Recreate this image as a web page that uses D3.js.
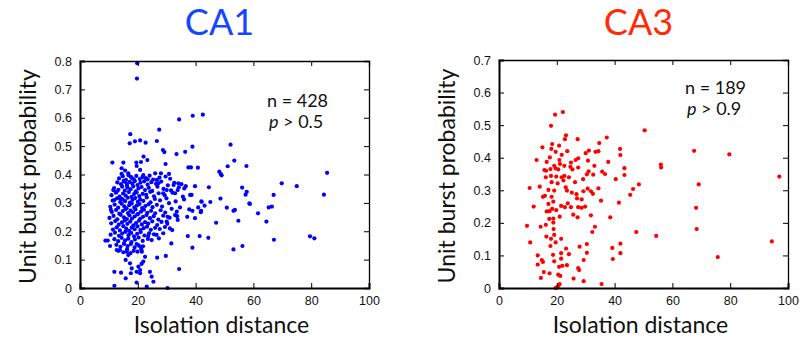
<!DOCTYPE html>
<html><head><meta charset="utf-8">
<script src="https://cdn.jsdelivr.net/npm/d3@7"></script>
<style>
html,body{margin:0;padding:0;background:#fff;}
svg{display:block;}
</style></head>
<body>
<svg id="chart" width="801" height="341"></svg>
<script>
// ---------- DATA ----------
const xTicks = [0, 20, 40, 60, 80, 100];
const ca1YTicks = [0, 0.1, 0.2, 0.3, 0.4, 0.5, 0.6, 0.7, 0.8];
const ca3YTicks = [0, 0.1, 0.2, 0.3, 0.4, 0.5, 0.6, 0.7];
const panelTitles = ["CA1", "CA3"];
const xLabel = "Isolation distance";
const yLabel = "Unit burst probability";
const ca1Stats = ["n = 428", "> 0.5"];
const ca3Stats = ["n = 189", "> 0.9"];

// CA1: [isolation distance, burst probability]
const ca1Points = [
[13.5,0.386],[14.8,0.394],[15.9,0.381],[16.8,0.397],[17.9,0.388],[18.6,0.383],[19.5,0.395],[20.7,0.384],[21.6,0.391],[22.8,0.387],[24.1,0.396],[25.3,0.382],[27.5,0.389],[29.6,0.393],[31.2,0.385],
[12.9,0.372],[14.2,0.366],[15.1,0.378],[16.3,0.361],[17.2,0.374],[18.1,0.368],[19.0,0.377],[19.9,0.363],[20.9,0.371],[22.2,0.376],[23.4,0.364],[24.7,0.373],[26.3,0.367],[28.1,0.375],[30.4,0.362],[32.6,0.371],[35.1,0.366],
[11.8,0.352],[13.3,0.346],[14.6,0.357],[15.5,0.343],[16.4,0.354],[17.5,0.348],[18.4,0.358],[19.3,0.341],[20.2,0.351],[21.3,0.356],[22.5,0.345],[23.8,0.353],[25.0,0.342],[26.8,0.357],[28.9,0.349],[31.5,0.344],[34.2,0.355],
[10.9,0.327],[12.4,0.336],[13.7,0.322],[14.9,0.333],[15.8,0.326],[16.9,0.338],[17.8,0.321],[18.7,0.331],[19.6,0.337],[20.5,0.324],[21.7,0.332],[22.9,0.328],[24.3,0.339],[25.6,0.323],[27.2,0.334],[29.3,0.327],[32.0,0.336],[35.6,0.322],
[11.3,0.308],[12.8,0.316],[13.9,0.303],[14.7,0.313],[15.6,0.306],[16.5,0.318],[17.3,0.301],[18.2,0.311],[19.1,0.317],[20.0,0.304],[20.8,0.312],[21.9,0.307],[23.1,0.319],[24.4,0.302],[25.9,0.314],[27.7,0.309],[29.9,0.316],[33.1,0.305],[36.0,0.312],
[10.5,0.286],[12.0,0.294],[13.2,0.283],[14.4,0.297],[15.3,0.288],[16.1,0.281],[17.0,0.292],[17.9,0.298],[18.8,0.284],[19.7,0.291],[20.6,0.296],[21.5,0.282],[22.6,0.289],[23.7,0.295],[25.1,0.285],[26.6,0.293],[28.4,0.287],[30.8,0.299],[34.6,0.284],
[11.0,0.268],[12.5,0.275],[13.6,0.262],[14.8,0.271],[15.7,0.278],[16.6,0.264],[17.5,0.273],[18.3,0.267],[19.2,0.277],[20.1,0.261],[21.1,0.269],[22.1,0.276],[23.3,0.265],[24.6,0.272],[26.0,0.263],[27.9,0.274],[29.5,0.266],[31.7,0.279],
[10.2,0.247],[11.6,0.254],[12.9,0.242],[14.1,0.258],[15.2,0.249],[16.2,0.243],[17.1,0.256],[18.0,0.245],[18.9,0.252],[19.8,0.259],[20.8,0.244],[21.8,0.251],[23.0,0.257],[24.2,0.246],[25.5,0.253],[27.1,0.241],[28.8,0.255],[31.0,0.248],[33.6,0.253],
[10.8,0.228],[12.2,0.236],[13.4,0.223],[14.5,0.231],[15.5,0.238],[16.4,0.226],[17.4,0.234],[18.5,0.221],[19.4,0.229],[20.4,0.237],[21.4,0.224],[22.5,0.232],[23.6,0.227],[25.0,0.235],[26.7,0.222],[28.2,0.233],[30.2,0.226],
[11.4,0.206],[12.7,0.214],[13.8,0.203],[15.0,0.218],[16.0,0.209],[17.0,0.201],[17.9,0.213],[18.9,0.207],[19.9,0.217],[20.9,0.204],[22.0,0.211],[23.2,0.216],[24.5,0.205],[26.0,0.212],[27.6,0.208],[29.4,0.215],
[10.6,0.188],[12.1,0.195],[13.5,0.184],[14.6,0.192],[15.7,0.198],[16.8,0.186],[17.7,0.194],[18.7,0.182],[19.8,0.191],[21.0,0.197],[22.3,0.185],[23.9,0.193],[25.6,0.189],
[11.9,0.172],[13.2,0.165],[14.4,0.177],[15.6,0.168],[16.7,0.174],[17.8,0.162],[19.0,0.171],[20.3,0.178],[21.7,0.166],[23.5,0.173],
[12.6,0.152],[14.0,0.145],[15.2,0.157],[16.5,0.148],[17.6,0.155],[18.9,0.143],[20.2,0.151],[21.8,0.147],
[13.8,0.134],[15.0,0.126],[16.3,0.137],[17.5,0.123],[18.6,0.131],[19.9,0.128],[21.2,0.136],
[34.3,0.594],[39.0,0.607],[42.5,0.611],[19.8,0.792],[19.7,0.738],
[27.4,0.558],[17.4,0.542],[17.2,0.510],[19.0,0.517],[20.8,0.520],[22.7,0.512],[26.6,0.518],
[28.7,0.486],[29.2,0.479],[33.4,0.472],[36.4,0.480],[38.9,0.498],[52.1,0.505],
[11.2,0.442],[15.0,0.442],[22.0,0.463],[23.3,0.451],[19.5,0.442],[21.1,0.444],[29.6,0.437],
[37.5,0.425],[38.4,0.425],[40.8,0.424],[53.4,0.449],[51.1,0.429],[57.6,0.430],
[14.4,0.422],[15.6,0.414],[16.7,0.404],[14.4,0.402],[17.6,0.392],[19.6,0.430],[20.8,0.416],[21.9,0.398],
[26.0,0.404],[28.0,0.404],[30.8,0.402],[23.4,0.383],[26.6,0.381],[27.1,0.369],
[32.4,0.363],[34.0,0.369],[36.1,0.351],[36.6,0.359],[38.6,0.328],[38.1,0.328],[33.8,0.345],[32.9,0.334],
[30.0,0.345],[28.8,0.334],[11.5,0.345],[12.7,0.339],[15.3,0.375],[16.2,0.367],
[13.8,0.316],[11.9,0.310],[10.7,0.275],
[42.1,0.304],[40.9,0.284],[41.9,0.272],[37.8,0.277],[38.9,0.272],[39.8,0.246],[37.1,0.251],
[33.5,0.269],[32.9,0.257],[33.8,0.240],[30.3,0.251],[30.0,0.234],[31.1,0.210],[31.9,0.204],
[28.8,0.193],[26.5,0.187],[27.3,0.175],[23.6,0.183],[24.8,0.169],[37.3,0.183],[41.4,0.183],
[31.6,0.157],[38.9,0.142],[29.7,0.113],[26.7,0.107],[34.3,0.067],
[9.6,0.167],[10.4,0.148],[12.7,0.134],[13.3,0.131],[15.3,0.155],[16.2,0.128],[16.7,0.116],[15.8,0.099],[17.3,0.087],[17.9,0.069],
[19.6,0.155],[20.8,0.146],[21.4,0.128],[22.5,0.110],[21.9,0.093],[21.3,0.085],[20.2,0.075],[19.6,0.057],[20.8,0.052],
[24.2,0.057],[24.8,0.040],[25.4,0.022],[11.9,0.057],[14.2,0.054],[11.9,0.008],[15.8,0.034],[17.6,0.052],[19.6,0.019],[23.1,0.005],[30.3,0.0],[8.8,0.167],[20.8,0.063],
[48.2,0.410],[48.7,0.402],[49.0,0.397],[85.5,0.406],[69.8,0.369],[75.0,0.359],[84.4,0.329],[56.1,0.354],[57.7,0.339],[57.3,0.329],[67.0,0.328],[48.6,0.315],[44.6,0.355],[39.8,0.359],[42.0,0.305],[45.1,0.303],[58.6,0.298],[58.8,0.296],[65.3,0.284],[66.4,0.287],[43.1,0.290],[50.8,0.283],[53.6,0.275],[53.1,0.272],[61.6,0.263],[41.8,0.267],[54.8,0.237],[64.5,0.234],[47.1,0.230],[44.4,0.177],[53.1,0.136],[56.2,0.148],[67.1,0.170],[79.6,0.182],[81.1,0.175]
];

// CA3: [isolation distance, burst probability]
const ca3Points = [
[19.4,0.532],[22.1,0.540],[18.0,0.498],[23.2,0.469],[22.8,0.457],[27.2,0.457],[37.3,0.462],[34.7,0.445],[18.4,0.442],[15.0,0.432],
[20.8,0.437],[18.1,0.427],[19.6,0.418],[23.6,0.420],[21.7,0.409],[17.6,0.401],[13.0,0.393],[16.5,0.387],[20.9,0.393],[21.1,0.381],
[24.9,0.385],[26.5,0.393],[27.4,0.398],[30.0,0.414],[31.1,0.422],[33.4,0.418],[34.4,0.420],[41.9,0.427],[42.0,0.408],[37.8,0.387],
[30.8,0.391],[19.1,0.375],[17.8,0.365],[15.7,0.362],[16.3,0.360],[19.6,0.367],[20.5,0.364],[22.6,0.375],[24.7,0.372],[25.4,0.364],
[27.4,0.370],[31.0,0.358],[30.4,0.349],[33.0,0.375],[35.7,0.357],[36.7,0.350],[40.4,0.334],[43.4,0.368],[43.4,0.347],[16.2,0.340],
[18.0,0.344],[19.8,0.342],[21.7,0.340],[22.6,0.344],[24.2,0.340],[22.3,0.330],[20.3,0.321],[18.2,0.325],[26.3,0.325],[29.1,0.334],
[32.6,0.348],[10.6,0.307],[14.1,0.311],[19.1,0.299],[17.1,0.301],[23.1,0.309],[23.5,0.299],[25.2,0.293],[26.8,0.288],[29.2,0.297],
[30.7,0.305],[31.8,0.297],[32.5,0.289],[34.4,0.306],[15.2,0.280],[15.9,0.283],[18.2,0.280],[18.8,0.265],[27.0,0.275],[28.6,0.272],
[35.3,0.268],[41.5,0.262],[12.0,0.250],[17.1,0.258],[16.5,0.235],[17.5,0.236],[18.4,0.243],[19.8,0.239],[21.5,0.252],[22.8,0.248],
[23.8,0.260],[24.9,0.248],[27.4,0.248],[28.6,0.246],[29.8,0.250],[27.2,0.217],[25.7,0.225],[31.8,0.223],[38.5,0.217],[21.0,0.219],
[18.8,0.213],[17.4,0.212],[18.8,0.201],[16.2,0.194],[14.4,0.188],[9.7,0.191],[18.9,0.181],[33.2,0.188],[32.3,0.172],[19.1,0.163],
[16.4,0.158],[18.0,0.151],[21.5,0.151],[19.6,0.140],[10.8,0.140],[17.8,0.129],[30.4,0.135],[27.9,0.127],[23.2,0.121],[39.2,0.123],
[42.0,0.136],[21.5,0.107],[24.2,0.104],[30.4,0.108],[42.0,0.107],[13.4,0.100],[18.7,0.102],[14.8,0.086],[15.2,0.080],[19.1,0.082],
[21.5,0.090],[29.3,0.086],[39.4,0.089],[13.4,0.072],[20.8,0.065],[21.9,0.068],[23.5,0.070],[27.4,0.061],[27.7,0.055],[15.5,0.049],
[17.5,0.045],[20.5,0.041],[21.2,0.037],[14.5,0.031],[25.8,0.029],[29.3,0.021],[21.0,0.012],[20.5,0.006],[20.1,0.002],[19.6,0.000],
[35.5,0.012],
[97.0,0.342],[69.1,0.318],[48.4,0.318],[46.4,0.304],[45.4,0.286],[68.2,0.246],[68.4,0.181],[47.5,0.172],[54.4,0.160],[94.4,0.143],
[75.7,0.095],[50.4,0.484],[67.5,0.421],[79.7,0.410],[56.0,0.379],[56.1,0.370]
];

// ---------- DRAW ----------
const svg = d3.select("#chart");
const tickFont = "'Liberation Sans', Arial, Helvetica, sans-serif";
const labelFont = "Lato, 'Noto Sans', sans-serif";

const panels = [
  {title: panelTitles[0], titleColor: "#1446ff", dotColor: "#0000ff", points: ca1Points,
   x0: 80, x1: 369, yTop: 61, yBot: 288, yMax: 0.8, yTicks: ca1YTicks,
   stats: ca1Stats, statX: 267, statY: 107, yLabelX: 36},
  {title: panelTitles[1], titleColor: "#ff2a0a", dotColor: "#ff0000", points: ca3Points,
   x0: 499, x1: 788, yTop: 60, yBot: 288, yMax: 0.7, yTicks: ca3YTicks,
   stats: ca3Stats, statX: 685, statY: 94, yLabelX: 455}
];

panels.forEach(p => {
  const x = d3.scaleLinear().domain([0, 100]).range([p.x0, p.x1]);
  const y = d3.scaleLinear().domain([0, p.yMax]).range([p.yBot, p.yTop]);
  const g = svg.append("g");

  // dots
  g.append("g").selectAll("circle").data(p.points).join("circle")
    .attr("cx", d => x(d[0])).attr("cy", d => y(d[1])).attr("r", 2.1)
    .attr("fill", p.dotColor);

  const fmt = v => v === 0 ? "0" : d3.format(".1f")(v);

  const bx = g.append("g").attr("transform", `translate(0,${p.yBot})`)
    .call(d3.axisBottom(x).tickValues(xTicks).tickSize(-5).tickPadding(8).tickFormat(d3.format("d")));
  const tx = g.append("g").attr("transform", `translate(0,${p.yTop})`)
    .call(d3.axisTop(x).tickValues(xTicks).tickSize(-5).tickFormat(""));
  const ly = g.append("g").attr("transform", `translate(${p.x0},0)`)
    .call(d3.axisLeft(y).tickValues(p.yTicks).tickSize(-5).tickPadding(8).tickFormat(fmt));
  const ry = g.append("g").attr("transform", `translate(${p.x1},0)`)
    .call(d3.axisRight(y).tickValues(p.yTicks).tickSize(-5).tickFormat(""));

  [bx, tx, ly, ry].forEach(a => {
    a.selectAll(".domain").attr("stroke", "#000");
    a.selectAll(".tick line").attr("stroke", "#000").attr("stroke-width", 1);
    a.selectAll("text").attr("font-family", tickFont).attr("font-size", 12.5).attr("fill", "#111");
  });
  bx.select(".domain").attr("stroke-width", 2);
  ly.select(".domain").attr("stroke-width", 2);
  tx.select(".domain").attr("stroke-width", 1.3);
  ry.select(".domain").attr("stroke-width", 1.3);

  // title
  g.append("text").attr("x", (p.x0 + p.x1) / 2 - 5).attr("y", 35)
    .attr("text-anchor", "middle").attr("font-family", labelFont)
    .attr("font-size", 36).attr("fill", p.titleColor).text(p.title);

  // x label
  g.append("text").attr("x", (p.x0 + p.x1) / 2 - 3).attr("y", 333)
    .attr("text-anchor", "middle").attr("font-family", labelFont)
    .attr("font-size", 23).attr("fill", "#111").text(xLabel);

  // y label
  g.append("text").attr("transform", `translate(${p.yLabelX},${(p.yTop + p.yBot) / 2 + 2}) rotate(-90)`)
    .attr("text-anchor", "middle").attr("font-family", labelFont)
    .attr("font-size", 23).attr("fill", "#111").text(yLabel);

  // stats
  g.append("text").attr("x", p.statX).attr("y", p.statY)
    .attr("font-family", labelFont).attr("font-size", 18).attr("fill", "#111").text(p.stats[0]);
  const t2 = g.append("text").attr("x", p.statX + 2).attr("y", p.statY + 21)
    .attr("font-family", labelFont).attr("font-size", 18).attr("fill", "#111");
  t2.append("tspan").attr("font-style", "italic").text("p");
  t2.append("tspan").text(" " + p.stats[1]);
});
</script>
</body></html>
